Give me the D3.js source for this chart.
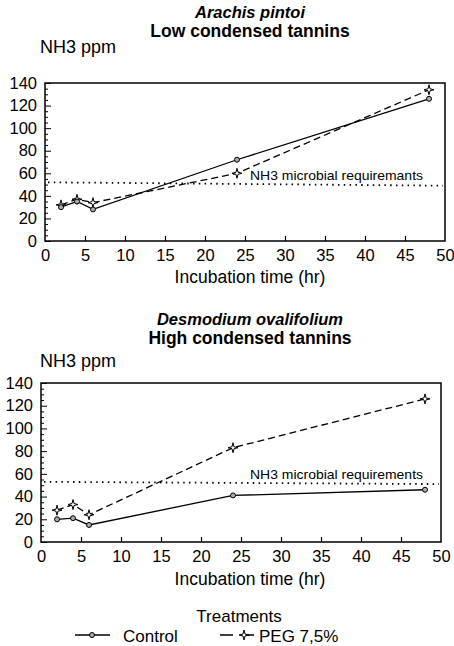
<!DOCTYPE html>
<html><head><meta charset="utf-8">
<script src="https://cdn.jsdelivr.net/npm/d3@7"></script>
<style>
body{margin:0;background:#fff;}
svg{display:block;font-family:"Liberation Sans",Arial,Helvetica,sans-serif;}
</style></head>
<body>
<svg id="c" width="454" height="646"></svg>
<script>
// ---- data ----
const hours = [2, 4, 6, 24, 48];
const topControl = [30, 35, 28, 72, 126];
const topPEG = [32, 37, 34, 60, 134];
const botControl = [20, 21, 15, 41, 46];
const botPEG = [28, 33, 24, 83, 126];
const topThreshold = [52, 49];   // at x=0 and x=50
const botThreshold = [53, 51];
const yTicks = [0, 20, 40, 60, 80, 100, 120, 140];
const xTicks = [0, 5, 10, 15, 20, 25, 30, 35, 40, 45, 50];
const topTitle = ["Arachis pintoi", "Low condensed tannins"];
const botTitle = ["Desmodium ovalifolium", "High condensed tannins"];
const topThresholdLabel = "NH3 microbial requiremants";
const botThresholdLabel = "NH3 microbial requirements";
const yLabel = "NH3 ppm";
const xLabel = "Incubation time (hr)";
const legendTitle = "Treatments";
const seriesNames = ["Control", "PEG 7,5%"];

const svg = d3.select("#c");
const starPath = "M0,-5L1,-1L5,0L1,1L0,5L-1,1L-5,0L-1,-1Z";

function panel(o) {
  const x = d3.scaleLinear().domain([0, 50]).range([o.x0, o.x1]);
  const y = d3.scaleLinear().domain([0, 140]).range([o.y0, o.y1]);
  const g = svg.append("g");
  // titles
  g.append("text").attr("x", o.tx).attr("y", o.ty1).attr("text-anchor", "middle")
    .attr("font-size", 16.5).attr("font-style", "italic").attr("font-weight", "bold")
    .attr("dominant-baseline", "central").text(o.title[0]);
  g.append("text").attr("x", o.tx).attr("y", o.ty2).attr("text-anchor", "middle")
    .attr("font-size", 17.5).attr("font-weight", "bold")
    .attr("dominant-baseline", "central").text(o.title[1]);
  g.append("text").attr("x", 40).attr("y", o.yl).attr("font-size", 18)
    .attr("dominant-baseline", "central").text(yLabel);
  // frame
  g.append("rect").attr("x", o.x0).attr("y", o.y1).attr("width", o.x1 - o.x0)
    .attr("height", o.y0 - o.y1).attr("fill", "none").attr("stroke", "#000").attr("stroke-width", 1.5);
  // y axis
  const ya = g.append("g").attr("transform", `translate(${o.x0},0)`)
    .call(d3.axisRight(y).tickValues(d3.range(0, 141, 5)).tickSize(3).tickFormat(""));
  ya.select(".domain").remove();
  ya.selectAll("line").attr("stroke-width", 1)
    .attr("x2", d => d % 20 === 0 ? 6 : 3);
  const yl = g.append("g").attr("transform", `translate(${o.x0},0)`)
    .call(d3.axisLeft(y).tickValues(yTicks).tickSize(0).tickPadding(8));
  yl.select(".domain").remove();
  yl.selectAll("text").attr("font-size", 16.5).attr("font-family", null).attr("fill", "#000");
  // x axis
  const xa = g.append("g").attr("transform", `translate(0,${o.y0})`)
    .call(d3.axisTop(x).tickValues(xTicks.slice(1, -1)).tickSize(5).tickFormat(""));
  xa.select(".domain").remove();
  xa.selectAll("line").attr("stroke-width", 1.2);
  const xl = g.append("g").attr("transform", `translate(0,${o.y0})`)
    .call(d3.axisBottom(x).tickValues(xTicks).tickSize(0).tickPadding(8));
  xl.select(".domain").remove();
  xl.selectAll("text").attr("font-size", 16.5).attr("font-family", null).attr("fill", "#000");
  g.append("text").attr("x", 250).attr("y", o.xl).attr("text-anchor", "middle")
    .attr("font-size", 17.5).attr("dominant-baseline", "central").text(xLabel);
  // threshold
  g.append("line").attr("x1", x(0) + 3).attr("x2", x(50) - 2)
    .attr("y1", y(o.thr[0])).attr("y2", y(o.thr[1]))
    .attr("stroke", "#000").attr("stroke-width", 1.8).attr("stroke-dasharray", "1.5,4.3");
  g.append("text").attr("x", 250).attr("y", y(o.thr[0]) - 7).attr("font-size", 13)
    .attr("textLength", 173).attr("lengthAdjust", "spacingAndGlyphs")
    .attr("dominant-baseline", "central").text(o.thrLabel);
  // lines
  const line = d3.line().x((d, i) => x(hours[i])).y(d => y(d));
  g.append("path").attr("d", line(o.peg)).attr("fill", "none").attr("stroke", "#000")
    .attr("stroke-width", 1.3).attr("stroke-dasharray", "7,4");
  g.append("path").attr("d", line(o.ctrl)).attr("fill", "none").attr("stroke", "#000")
    .attr("stroke-width", 1.3);
  g.selectAll(".pm").data(o.peg).join("path")
    .attr("transform", (d, i) => `translate(${x(hours[i])},${y(d)})`)
    .attr("d", starPath).attr("fill", "#fff").attr("stroke", "#000").attr("stroke-width", 1);
  g.selectAll(".cm").data(o.ctrl).join("circle")
    .attr("cx", (d, i) => x(hours[i])).attr("cy", d => y(d)).attr("r", 2.5)
    .attr("fill", "#aaa").attr("stroke", "#000").attr("stroke-width", 1);
}

panel({x0: 45, x1: 445, y0: 241, y1: 83, title: topTitle, tx: 250, ty1: 12, ty2: 31, yl: 47, xl: 277,
  ctrl: topControl, peg: topPEG, thr: topThreshold, thrLabel: topThresholdLabel});
panel({x0: 41, x1: 441, y0: 542, y1: 383, title: botTitle, tx: 250, ty1: 319, ty2: 338, yl: 361, xl: 579,
  ctrl: botControl, peg: botPEG, thr: botThreshold, thrLabel: botThresholdLabel});

// legend
const lg = svg.append("g");
lg.append("text").attr("x", 239).attr("y", 616).attr("text-anchor", "middle").attr("font-size", 17)
  .attr("dominant-baseline", "central").text(legendTitle);
lg.append("line").attr("x1", 75).attr("x2", 110).attr("y1", 635).attr("y2", 635).attr("stroke", "#000").attr("stroke-width", 1.3);
lg.append("circle").attr("cx", 92).attr("cy", 635).attr("r", 2.5).attr("fill", "#aaa").attr("stroke", "#000");
lg.append("text").attr("x", 123).attr("y", 636).attr("font-size", 17).attr("dominant-baseline", "central").text(seriesNames[0]);
lg.append("line").attr("x1", 220).attr("x2", 258).attr("y1", 635).attr("y2", 635).attr("stroke", "#000")
  .attr("stroke-width", 1.3).attr("stroke-dasharray", "13,8,13");
lg.append("path").attr("transform", "translate(244,635)").attr("d", starPath).attr("fill", "#fff").attr("stroke", "#000");
lg.append("text").attr("x", 259).attr("y", 636).attr("font-size", 17).attr("dominant-baseline", "central").text(seriesNames[1]);
</script>
</body></html>
